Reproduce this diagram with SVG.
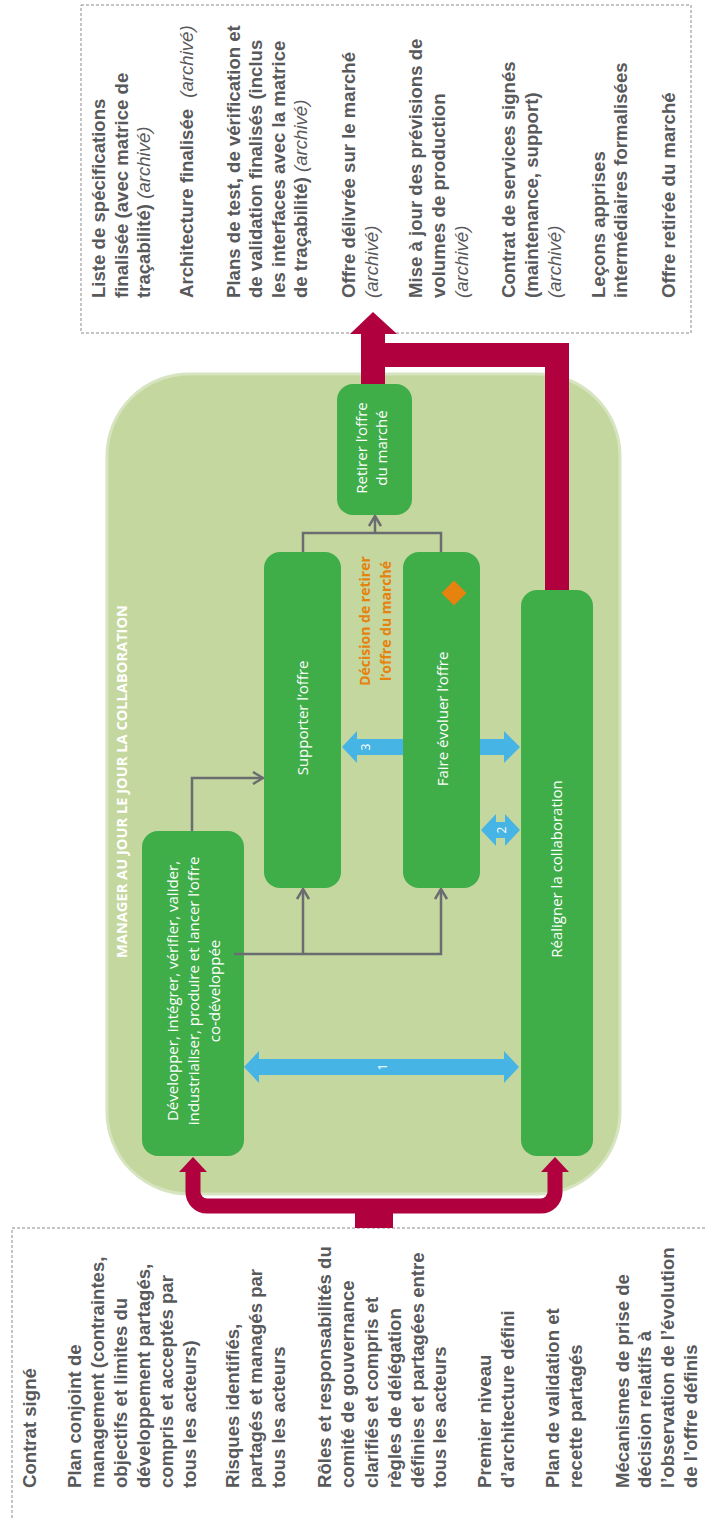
<svg xmlns="http://www.w3.org/2000/svg" width="707" height="1519" viewBox="0 0 707 1519">
<style>
.t{font-family:"Liberation Sans",Arial,sans-serif;font-weight:bold;font-size:18.6px;fill:#58595b}
.i{font-weight:normal;font-style:italic}
.n{font-family:"Open Sans",sans-serif;font-size:15px;fill:#fff;text-anchor:middle}
.o{font-family:"Open Sans",sans-serif;font-weight:bold;font-size:14px;fill:#e6820e;text-anchor:middle}
.lbl{font-family:"Open Sans",sans-serif;font-size:12px;fill:#fff;text-anchor:middle}
.node{fill:#3fae49}
.box{fill:none;stroke:#8a8a8a;stroke-width:1;stroke-dasharray:3 2}
.g{fill:none;stroke:#6b6c6f;stroke-width:2.5}
.blue{fill:#46b4e4}
.cr{fill:#b0003e}
.crs{fill:none;stroke:#b0003e}
</style>
<defs>
<marker id="ah" viewBox="0 0 12 14" refX="11" refY="7" markerWidth="12" markerHeight="14" markerUnits="userSpaceOnUse" orient="auto">
<path d="M1,1 L11,7 L1,13" fill="none" stroke="#6b6c6f" stroke-width="2.5"/>
</marker>
</defs>
<rect width="707" height="1519" fill="#fff"/>

<g id="outputs">
<rect class="box" x="81" y="5" width="610" height="328"/>
<g transform="rotate(-90)">
<text class="t" x="-298" y="105">Liste de spécifications</text>
<text class="t" x="-298" y="128">finalisée (avec matrice de</text>
<text class="t" x="-298" y="150">traçabilité) <tspan class="i">(archivé)</tspan></text>
<text class="t" x="-298" y="193">Architecture finalisée <tspan class="i" dx="6">(archivé)</tspan></text>
<text class="t" x="-298" y="240">Plans de test, de vérification et</text>
<text class="t" x="-298" y="262">de validation finalisés (inclus</text>
<text class="t" x="-298" y="285">les interfaces avec la matrice</text>
<text class="t" x="-298" y="307">de traçabilité) <tspan class="i">(archivé)</tspan></text>
<text class="t" x="-298" y="355">Offre délivrée sur le marché</text>
<text class="t i" x="-298" y="378">(archivé)</text>
<text class="t" x="-298" y="422">Mise à jour des prévisions de</text>
<text class="t" x="-298" y="445">volumes de production</text>
<text class="t i" x="-298" y="468">(archivé)</text>
<text class="t" x="-298" y="515">Contrat de services signés</text>
<text class="t" x="-298" y="538">(maintenance, support)</text>
<text class="t i" x="-298" y="561">(archivé)</text>
<text class="t" x="-298" y="605">Leçons apprises</text>
<text class="t" x="-298" y="627">intermédiaires formalisées</text>
<text class="t" x="-298" y="675">Offre retirée du marché</text>
</g>
</g>

<g id="inputs">
<rect class="box" x="12" y="1228" width="720" height="320"/>
<g transform="rotate(-90)">
<text class="t" x="-1488" y="35.5">Contrat signé</text>
<text class="t" x="-1488" y="80.5">Plan conjoint de</text>
<text class="t" x="-1488" y="104">management (contraintes,</text>
<text class="t" x="-1488" y="127">objectifs et limites du</text>
<text class="t" x="-1488" y="150">développement partagés,</text>
<text class="t" x="-1488" y="173">compris et acceptés par</text>
<text class="t" x="-1488" y="196">tous les acteurs)</text>
<text class="t" x="-1488" y="238.5">Risques identifiés,</text>
<text class="t" x="-1488" y="262">partagés et managés par</text>
<text class="t" x="-1488" y="285">tous les acteurs</text>
<text class="t" x="-1488" y="330.5">Rôles et responsabilités du</text>
<text class="t" x="-1488" y="353.5">comité de gouvernance</text>
<text class="t" x="-1488" y="378">clarifiés et compris et</text>
<text class="t" x="-1488" y="400.5">règles de délégation</text>
<text class="t" x="-1488" y="423.5">définies et partagées entre</text>
<text class="t" x="-1488" y="445.5">tous les acteurs</text>
<text class="t" x="-1488" y="490.5">Premier niveau</text>
<text class="t" x="-1488" y="513.5">d’architecture défini</text>
<text class="t" x="-1488" y="558.5">Plan de validation et</text>
<text class="t" x="-1488" y="582">recette partagés</text>
<text class="t" x="-1488" y="628.5">Mécanismes de prise de</text>
<text class="t" x="-1488" y="650.5">décision relatifs à</text>
<text class="t" x="-1488" y="673.5">l’observation de l’évolution</text>
<text class="t" x="-1488" y="697">de l’offre définis</text>
</g>
</g>

<g id="panel">
<rect x="107" y="374" width="513" height="820" rx="82" fill="#c4d79f" stroke="#d6e4bf" stroke-width="3"/>
<text transform="rotate(-90)" x="-958" y="127" textLength="353" lengthAdjust="spacingAndGlyphs" font-family="Open Sans, sans-serif" font-weight="bold" font-size="13.5" fill="#fff">MANAGER AU JOUR LE JOUR LA COLLABORATION</text>
</g>

<g id="node-developper">
<rect class="node" x="142" y="831" width="102" height="325" rx="16"/>
<text class="n" transform="rotate(-90)" x="-991" y="178"><tspan x="-991">Développer, intégrer, vérifier, valider,</tspan><tspan x="-991" dy="21">industrialiser, produire et lancer l’offre</tspan><tspan x="-991" dy="21">co-développée</tspan></text>
</g>
<g id="node-supporter">
<rect class="node" x="264" y="552" width="77" height="336" rx="16"/>
<text class="n" transform="rotate(-90)" x="-718" y="308">Supporter l’offre</text>
</g>
<g id="node-faire-evoluer">
<rect class="node" x="403" y="552" width="77" height="336" rx="16"/>
<text class="n" transform="rotate(-90)" x="-719" y="448">Faire évoluer l’offre</text>
<polygon points="454,580.5 466.5,593 454,605.5 441.5,593" fill="#e6820e"/>
</g>
<g id="node-retirer">
<rect class="node" x="337" y="384" width="75" height="131" rx="16"/>
<text class="n" transform="rotate(-90)" x="-448" y="367"><tspan x="-448">Retirer l’offre</tspan><tspan x="-448" dy="20">du marché</tspan></text>
</g>
<g id="node-realigner">
<rect class="node" x="521" y="590" width="72" height="566" rx="16"/>
<text class="n" transform="rotate(-90)" x="-869" y="562">Réaligner la collaboration</text>
</g>
<g id="decision">
<text class="o" transform="rotate(-90)" x="-621" y="370"><tspan x="-621">Décision de retirer</tspan><tspan x="-621" dy="21">l’offre du marché</tspan></text>
</g>

<g id="connectors">
<path class="g" d="M192 831 V778 H263" marker-end="url(#ah)"/>
<path class="g" d="M234 954 H441 V889" marker-end="url(#ah)"/>
<path class="g" d="M303 954 V889" marker-end="url(#ah)"/>
<path class="g" d="M303 552 V533 H441 V552"/>
<path class="g" d="M375 533 V516" marker-end="url(#ah)"/>

<polygon class="blue" points="244,1067 259,1051 259,1059 504,1059 504,1051 519,1067 504,1083 504,1075 259,1075 259,1083"/>
<text class="lbl" transform="rotate(-90)" x="-1067" y="387">1</text>
<polygon class="blue" points="342,747 357,731 357,739 403,739 403,755 357,755 357,763"/>
<polygon class="blue" points="480,739 504,739 504,731 520,747 504,763 504,755 480,755"/>
<text class="lbl" transform="rotate(-90)" x="-747" y="370">3</text>
<polygon class="blue" points="481,830 496,814 496,822 505,822 505,814 520,830 505,846 505,838 496,838 496,846"/>
<text class="lbl" transform="rotate(-90)" x="-830" y="506">2</text>

<path class="crs" stroke-width="15" d="M193 1171 V1192 A14 14 0 0 0 207 1206 H541 A14 14 0 0 0 555 1192 V1171"/>
<polygon class="cr" points="193,1157 179,1172 207,1172"/>
<polygon class="cr" points="555,1157 541,1172 569,1172"/>
<rect class="cr" x="355" y="1199" width="38" height="29"/>

<path class="crs" stroke-width="24" stroke-linejoin="miter" d="M557 590 V355 H373"/>
<path class="crs" stroke-width="24" d="M373 384 V333"/>
<polygon class="cr" points="373,312 350,334 397,334"/>
</g>
</svg>
